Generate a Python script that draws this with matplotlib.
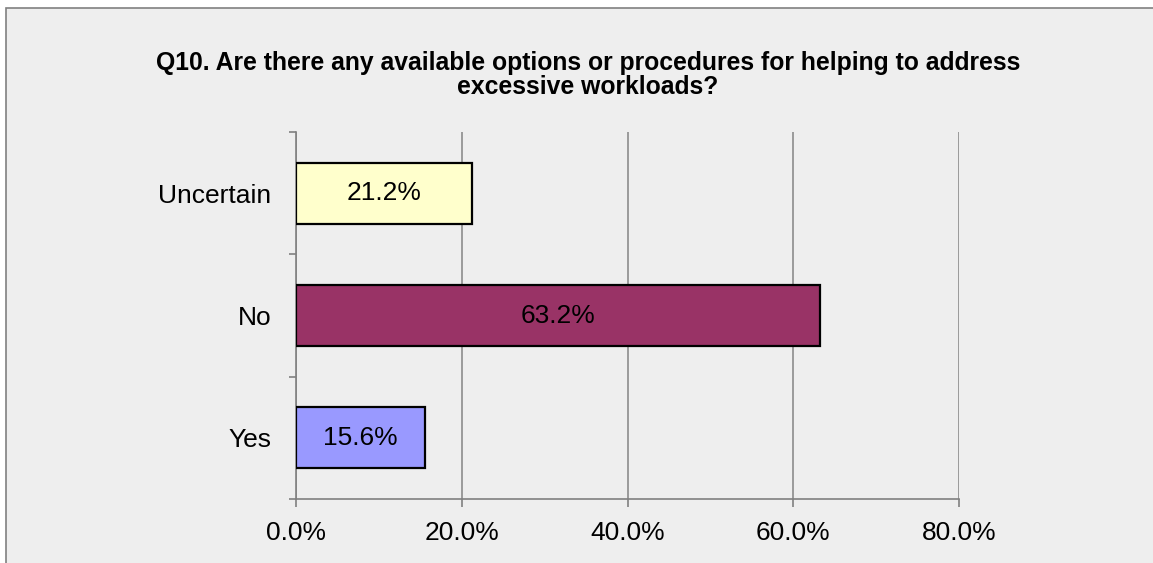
import matplotlib
matplotlib.use('Agg')
import matplotlib.pyplot as plt
from matplotlib import patches

# chart data
categories = ['Yes', 'No', 'Uncertain']
values = [15.6, 63.2, 21.2]
bar_colors = ['#9999FF', '#993366', '#FFFFCC']
x_ticks = [0, 20, 40, 60, 80]
x_tick_labels = ['0.0%', '20.0%', '40.0%', '60.0%', '80.0%']
title = 'Q10. Are there any available options or procedures for helping to address\nexcessive workloads?'

plt.rcParams['font.family'] = ['Liberation Sans', 'DejaVu Sans']

fig = plt.figure(figsize=(11.53, 5.63), dpi=100)
fig.patch.set_facecolor('white')

# grey chart area with border on top and left
bg = patches.Rectangle((6 / 1153, -0.05), 1.2, 0.9858 + 0.05,
                       transform=fig.transFigure, facecolor='#EEEEEE',
                       edgecolor='#808080', linewidth=1.2, zorder=-10)
fig.patches.append(bg)

ax = fig.add_axes([296 / 1153, 1 - 499 / 563, (959 - 296) / 1153, (499 - 132) / 563])
ax.set_facecolor('none')

y = range(len(categories))
bars = ax.barh(y, values, height=0.5, color=bar_colors, edgecolor='black',
               linewidth=1.6, zorder=3)
for b, v in zip(bars, values):
    ax.text(b.get_width() / 2, b.get_y() + b.get_height() / 2, f'{v:.1f}%',
            ha='center', va='center', fontsize=19, zorder=4)

ax.set_xlim(0, 80)
ax.set_ylim(-0.5, 2.5)
ax.set_xticks(x_ticks)
ax.set_xticklabels(x_tick_labels, fontsize=19)
ax.set_yticks(list(y))
ax.set_yticklabels(categories, fontsize=19)
ax.set_yticks([-0.5, 0.5, 1.5, 2.5], minor=True)
ax.tick_params(axis='y', which='major', length=0, pad=18)
ax.tick_params(axis='y', which='minor', length=5, color='#808080', width=1.2)
ax.tick_params(axis='x', length=6, color='#808080', width=1.2, pad=10)

ax.grid(axis='x', color='#8C8C8C', linewidth=1.2, zorder=0)
ax.set_axisbelow(True)
for s in ['top', 'right']:
    ax.spines[s].set_visible(False)
for s in ['left', 'bottom']:
    ax.spines[s].set_color('#808080')
    ax.spines[s].set_linewidth(1.2)

fig.text(588 / 1153, 1 - 75 / 563, title, ha='center', va='center',
         fontsize=17.8, fontweight='bold', linespacing=1.05)

fig.savefig('out.png', dpi=100)
